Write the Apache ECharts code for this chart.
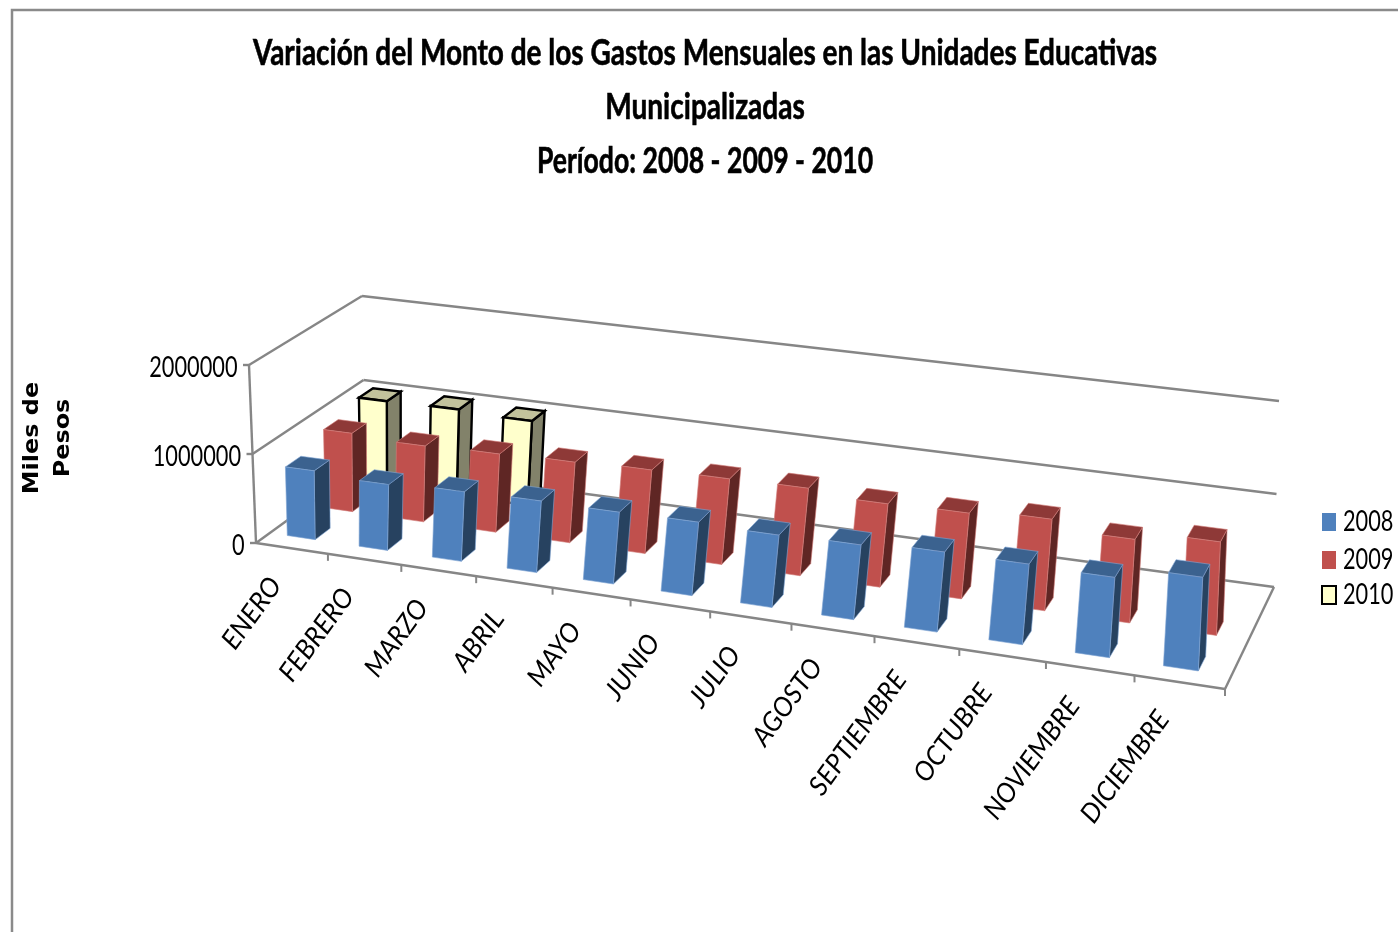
<!DOCTYPE html>
<html>
<head>
<meta charset="utf-8">
<script src="https://cdn.jsdelivr.net/npm/echarts@6/dist/echarts.min.js"></script>
<style>
  html, body { margin: 0; background: #fff; }
  #chart { width: 1398px; height: 932px; }
</style>
</head>
<body>
<div id="chart"></div>
<script>
const months = ["ENERO", "FEBRERO", "MARZO", "ABRIL", "MAYO", "JUNIO", "JULIO", "AGOSTO", "SEPTIEMBRE", "OCTUBRE", "NOVIEMBRE", "DICIEMBRE"];
const values2008 = [775000, 735000, 770000, 785000, 780000, 790000, 770000, 785000, 830000, 825000, 810000, 930000];
const values2009 = [900000, 865000, 885000, 905000, 930000, 945000, 955000, 900000, 915000, 965000, 870000, 960000];
const values2010 = [990000, 1000000, 975000, null, null, null, null, null, null, null, null, null];
const yTicks = [0, 1000000, 2000000];
const legendNames = ["2008", "2009", "2010"];
const titleLines = [
  "Variación del Monto de los Gastos Mensuales en las Unidades Educativas",
  "Municipalizadas",
  "Período: 2008 - 2009 - 2010"
];

const FONT = "Lato, 'Liberation Sans', sans-serif";
const NARROW = 0.75; // the source text is squeezed horizontally
const AXIS_GREY = "#868686";

// picture of the unit cube: corners of the floor and of the plane at axis max
// order: front-left, front-right, back-right, back-left
const floorQuad = [[256, 543], [1225, 689], [1274, 587], [365, 464]];
const topQuad = [[249, 365], [1233, 484], [1279, 401], [362, 296]];

// unit square -> quad
function makeWarp(q) {
  const [x0, y0] = q[0], [x1, y1] = q[1], [x2, y2] = q[2], [x3, y3] = q[3];
  const dx1 = x1 - x2, dx2 = x3 - x2, sx = x0 - x1 + x2 - x3;
  const dy1 = y1 - y2, dy2 = y3 - y2, sy = y0 - y1 + y2 - y3;
  const d = dx1 * dy2 - dx2 * dy1;
  const g = (sx * dy2 - dx2 * sy) / d;
  const h = (dx1 * sy - sx * dy1) / d;
  const a = x1 - x0 + g * x1, b = x3 - x0 + h * x3;
  const c = y1 - y0 + g * y1, e = y3 - y0 + h * y3;
  return (u, v) => {
    const k = g * u + h * v + 1;
    return [(a * u + b * v + x0) / k, (c * u + e * v + y0) / k];
  };
}
const warpFloor = makeWarp(floorQuad);
const warpTop = makeWarp(topQuad);

// u along months, v into the depth, w height as fraction of axis
function project(u, v, w) {
  const un = u + 0.022 * u * (1 - u); // source has a bit less foreshortening
  const f = warpFloor(un, v), t = warpTop(un, v);
  return [f[0] + (t[0] - f[0]) * w, f[1] + (t[1] - f[1]) * w];
}

const BAR_U = 0.39 / months.length;
const BAR_V = 0.135;
const BAR_SHIFT = -0.06 / months.length; // bars sit a little left of the cell centre

// cell position of a data point, from the hidden grid's own scales
function toUnit(params, api, cat, val) {
  const cs = params.coordSys;
  const p = api.coord([cat, val]);
  return [(p[0] - cs.x) / cs.width, (cs.y + cs.height - p[1]) / cs.height];
}

function barRenderer(v0, faces, line) {
  return (params, api) => {
    const val = api.value(1);
    if (val == null || isNaN(val)) return;
    const [uc, w] = toUnit(params, api, api.value(0), val);
    const u0 = uc + BAR_SHIFT - BAR_U / 2, u1 = uc + BAR_SHIFT + BAR_U / 2, v1 = v0 + BAR_V;
    const poly = (pts, fill) => ({
      type: "polygon",
      shape: { points: pts.map((p) => project(p[0], p[1], p[2])) },
      style: { fill: fill, stroke: line.color, lineWidth: line.width, lineJoin: "miter" }
    });
    return {
      type: "group",
      children: [
        poly([[u1, v0, 0], [u1, v1, 0], [u1, v1, w], [u1, v0, w]], faces.side),
        poly([[u0, v0, w], [u1, v0, w], [u1, v1, w], [u0, v1, w]], faces.top),
        poly([[u0, v0, 0], [u1, v0, 0], [u1, v0, w], [u0, v0, w]], faces.front)
      ]
    };
  };
}

function seg(a, b) {
  const p = project(a[0], a[1], a[2]), q = project(b[0], b[1], b[2]);
  return {
    type: "line",
    shape: { x1: p[0], y1: p[1], x2: q[0], y2: q[1] },
    style: { stroke: AXIS_GREY, lineWidth: 2.4 }
  };
}

// walls: lines, tick and label for every value tick
function renderWalls(params, api) {
  const val = api.value(1);
  const w = toUnit(params, api, 0, val)[1];
  const children = [seg([0, 0, w], [0, 1, w]), seg([0, 1, w], [1, 1, w])];
  const p = project(0, 0, w);
  children.push({
    type: "line",
    shape: { x1: p[0] - 6, y1: p[1], x2: p[0], y2: p[1] },
    style: { stroke: AXIS_GREY, lineWidth: 2.4 }
  });
  children.push({
    type: "text",
    x: p[0] - 11.5,
    y: p[1] + 3,
    scaleX: NARROW,
    style: { text: String(val), font: "29px " + FONT, fill: "#000", align: "right", verticalAlign: "middle" }
  });
  if (w === 0) {
    children.push(seg([0, 0, 0], [1, 0, 0]), seg([1, 0, 0], [1, 1, 0]), seg([0, 0, 0], [0, 0, 1]));
  }
  return { type: "group", children: children };
}

// month tick on the front edge and its slanted label
function renderMonth(params, api) {
  const cat = api.value(0);
  const uc = toUnit(params, api, cat, 0)[0];
  const edge = uc + 0.5 / months.length;
  const t = project(edge, 0, 0);
  const c = project(uc, 0, 0);
  return {
    type: "group",
    children: [
      {
        type: "line",
        shape: { x1: t[0], y1: t[1], x2: t[0], y2: t[1] + 7 },
        style: { stroke: AXIS_GREY, lineWidth: 2 }
      },
      {
        type: "text",
        x: c[0] - 16,
        y: c[1] + 32,
        rotation: 54 * Math.PI / 180,
        scaleX: 0.97,
        style: {
          text: months[cat],
          font: "italic 27px " + FONT,
          fill: "#000",
          align: "right",
          verticalAlign: "middle"
        }
      }
    ]
  };
}

function barSeries(name, values, v0, z, faces, line) {
  return {
    name: name,
    type: "custom",
    z: z,
    silent: true,
    encode: { x: 0, y: 1 },
    data: values.map((v, i) => [i, v]),
    renderItem: barRenderer(v0, faces, line)
  };
}

const soft = (c) => ({ color: c, width: 0.6 });

// legend squares and labels, squeezed text is not possible in the legend component
const legendY = [522, 560, 595];
const legendFill = ["#4F81BD", "#C0504D", "#FFFFCC"];
const legendGraphic = [];
legendNames.forEach((name, i) => {
  legendGraphic.push({
    type: "rect",
    shape: { x: 1322, y: legendY[i] - 9, width: 14, height: 18 },
    style: { fill: legendFill[i], stroke: i === 2 ? "#000" : null, lineWidth: 2 }
  });
  legendGraphic.push({
    type: "text",
    x: 1343,
    y: legendY[i],
    scaleX: NARROW,
    style: { text: name, font: "29px " + FONT, fill: "#000", align: "left", verticalAlign: "middle" }
  });
});

const titleY = [53, 107, 161];
const titleScale = [0.777, 0.78, 0.738];
const titleGraphic = titleLines.map((line, i) => ({
  type: "text",
  x: 705,
  y: titleY[i],
  scaleX: titleScale[i],
  style: {
    text: line,
    font: "bold 36px " + FONT,
    fill: "#000",
    stroke: "#000",
    lineWidth: 0.6,
    align: "center",
    verticalAlign: "middle"
  }
}));

const chart = echarts.init(document.getElementById("chart"));
chart.setOption({
  animation: false,
  backgroundColor: "#fff",
  grid: { left: 240, top: 366, width: 960, height: 178 },
  xAxis: { type: "category", data: months, show: false },
  yAxis: { type: "value", min: 0, max: 2000000, interval: 1000000, show: false },
  graphic: [
    {
      type: "polyline",
      shape: { points: [[12, 932], [12, 10], [1398, 10]] },
      style: { stroke: "#8a8a8a", lineWidth: 2.5, fill: "none" }
    },
    {
      type: "text",
      x: 48,
      y: 438,
      rotation: Math.PI / 2,
      scaleX: 1.14,
      style: {
        text: "Miles de\nPesos",
        font: "bold 21px 'DejaVu Sans'",
        lineHeight: 31,
        fill: "#000",
        align: "center",
        verticalAlign: "middle"
      }
    }
  ].concat(titleGraphic, legendGraphic),
  series: [
    {
      type: "custom",
      z: 1,
      silent: true,
      data: yTicks.map((t) => [0, t]),
      encode: { x: 0, y: 1 },
      renderItem: renderWalls
    },
    barSeries("2010", values2010, 0.79, 2, { front: "#FFFFCC", top: "#C2C29C", side: "#82826A" }, { color: "#000", width: 2.4 }),
    barSeries("2009", values2009, 0.46, 3, { front: "#C0504D", top: "#8E3937", side: "#5F2624" }, soft("#D27C79")),
    barSeries("2008", values2008, 0.12, 4, { front: "#4F81BD", top: "#3B628F", side: "#274260" }, soft("#7FA5D3")),
    {
      type: "custom",
      z: 5,
      silent: true,
      data: months.map((m, i) => [i, 0]),
      encode: { x: 0, y: 1 },
      renderItem: renderMonth
    }
  ]
});
</script>
</body>
</html>
